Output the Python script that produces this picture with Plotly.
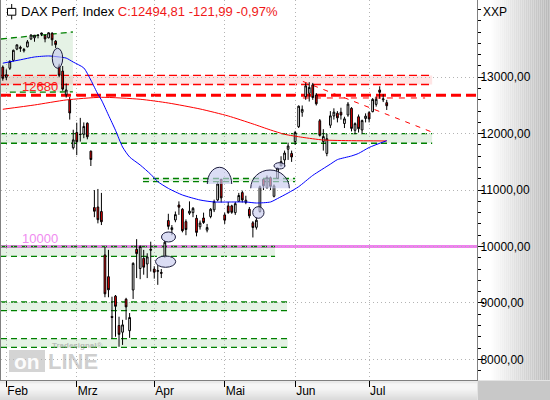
import plotly.graph_objects as go

# ---------------- data ----------------
dates = ["2020-01-31",
 "2020-02-03","2020-02-04","2020-02-05","2020-02-06","2020-02-07","2020-02-10","2020-02-11","2020-02-12",
 "2020-02-13","2020-02-14","2020-02-17","2020-02-18","2020-02-19","2020-02-20","2020-02-21","2020-02-24",
 "2020-02-25","2020-02-26","2020-02-27","2020-02-28",
 "2020-03-02","2020-03-03","2020-03-04","2020-03-05","2020-03-06","2020-03-09","2020-03-10","2020-03-11",
 "2020-03-12","2020-03-13","2020-03-16","2020-03-17","2020-03-18","2020-03-19","2020-03-20","2020-03-23",
 "2020-03-24","2020-03-25","2020-03-26","2020-03-27","2020-03-30","2020-03-31",
 "2020-04-01","2020-04-02","2020-04-03","2020-04-06","2020-04-07","2020-04-08","2020-04-09","2020-04-14",
 "2020-04-15","2020-04-16","2020-04-17","2020-04-20","2020-04-21","2020-04-22","2020-04-23","2020-04-24",
 "2020-04-27","2020-04-28","2020-04-29","2020-04-30",
 "2020-05-04","2020-05-05","2020-05-06","2020-05-07","2020-05-08","2020-05-11","2020-05-12","2020-05-13",
 "2020-05-14","2020-05-15","2020-05-18","2020-05-19","2020-05-20","2020-05-21","2020-05-22","2020-05-25",
 "2020-05-26","2020-05-27","2020-05-28","2020-05-29",
 "2020-06-02","2020-06-03","2020-06-04","2020-06-05","2020-06-08","2020-06-09","2020-06-10","2020-06-11",
 "2020-06-12","2020-06-15","2020-06-16","2020-06-17","2020-06-18","2020-06-19","2020-06-22","2020-06-23",
 "2020-06-24","2020-06-25","2020-06-26","2020-06-29","2020-06-30",
 "2020-07-01","2020-07-02","2020-07-03","2020-07-06","2020-07-07","2020-07-08"]

opens = [13180,
 13000,13160,13300,13500,13530,13470,13540,13680,13700,13750,13760,13740,13700,13780,13640,13200,13110,12690,12600,11750,
 12020,11990,11990,12185,11690,10690,10700,10620,9850,9465,8760,9120,8600,8480,9064,8507,9229,9950,9610,9790,9690,9950,
 9600,9560,9540,9820,10460,10300,10470,10735,10660,10440,10590,10600,10500,10350,10505,10290,10530,10650,10825,11190,
 10560,10720,10720,10600,10800,10955,10780,10660,10420,10340,10620,11190,11040,11220,10890,11210,11430,11535,11724,11650,
 11860,12124,12380,12656,12716,12865,12686,12230,11860,11650,12150,12314,12362,12380,12180,12332,12450,12060,12300,12066,12270,
 12372,12390,12520,12775,12600,12550]
highs = [13210,
 13140,13300,13490,13580,13560,13520,13660,13760,13750,13760,13790,13760,13796,13800,13660,13240,13200,12890,12650,12070,
 12195,12280,12200,12200,11700,11000,11020,10950,9990,9940,9110,9140,8755,8700,9090,8820,9720,10130,10020,9940,9880,10085,
 9650,9670,9600,10100,10580,10380,10620,10800,10680,10480,10800,10700,10560,10460,10600,10400,10680,10830,11140,11200,
 10600,10790,10740,10790,10950,10990,10900,10700,10450,10520,11080,11200,11260,11240,11100,11400,11600,11700,11840,11700,
 12050,12500,12500,12900,12913,12900,12720,12260,12080,12000,12400,12450,12400,12460,12300,12560,12470,12200,12340,12250,12360,
 12400,12630,12660,12840,12700,12600]
lows = [12940,
 12950,13130,13280,13480,13450,13440,13530,13660,13630,13690,13730,13620,13690,13560,13520,13000,12760,12640,12250,11720,
 11620,11860,11920,11900,11427,10520,10410,10380,9100,9100,8372,8400,8223,8255,8700,8380,9070,9440,9420,9500,9440,9555,
 9430,9320,9440,9800,10300,10200,10430,10560,10250,10200,10560,10520,10180,10300,10400,10250,10500,10610,10800,10780,
 10400,10580,10580,10560,10790,10780,10750,10500,10160,10300,10600,11000,11030,11000,10870,11200,11420,11420,11535,11500,
 11800,12100,12300,12600,12570,12600,12500,11950,11700,11600,12100,12250,12200,12250,12100,12300,12040,11990,12020,12000,12200,
 12200,12380,12480,12620,12560,12420]
closes = [12982,
 13045,13282,13478,13575,13514,13494,13628,13750,13745,13744,13784,13681,13789,13664,13579,13035,12790,12775,12367,11890,
 11858,11985,12128,11945,11542,10625,10475,10439,9161,9232,8742,8939,8442,8610,8929,8741,9701,9874,10001,9633,9816,9936,
 9545,9571,9526,10075,10357,10333,10565,10697,10280,10301,10626,10676,10250,10415,10425,10336,10660,10796,11108,10862,
 10467,10600,10606,10759,10904,10825,10820,10543,10337,10465,11059,11075,11224,11066,11074,11391,11505,11657,11781,11587,
 12021,12487,12431,12848,12820,12642,12530,11970,11949,11911,12316,12382,12281,12331,12263,12524,12094,12178,12089,12232,12311,
 12261,12608,12610,12733,12616.80,12494.81]

month_labels = ["Feb", "Mrz", "Apr", "Mai", "Jun", "Jul"]
month_starts = ["2020-02-03", "2020-03-02", "2020-04-01", "2020-05-04", "2020-06-02", "2020-07-01"]
ytick_values = [8000, 9000, 10000, 11000, 12000, 13000]

ma_fast_dates = ["2020-01-31","2020-02-07","2020-02-13","2020-02-19","2020-02-24","2020-02-26","2020-02-28","2020-03-04",
 "2020-03-06","2020-03-10","2020-03-11","2020-03-13","2020-03-17","2020-03-19","2020-03-23","2020-03-26","2020-03-31",
 "2020-04-02","2020-04-07","2020-04-15","2020-04-22","2020-04-28","2020-05-06","2020-05-12","2020-05-15","2020-05-21",
 "2020-05-25","2020-05-28","2020-06-03","2020-06-09","2020-06-16","2020-06-18","2020-06-24","2020-06-26","2020-07-01","2020-07-08"]
ma_fast_values = [13250,13310,13360,13378,13360,13340,13270,13165,12950,12700,12598,12330,12060,11764,11587,11445,11280,
 11150,11030,10913,10824,10789,10789,10789,10771,10789,10850,10949,11060,11260,11460,11540,11605,11650,11755,11876]

ma_slow_dates = ["2020-01-31","2020-02-13","2020-02-26","2020-03-11","2020-03-26","2020-04-07","2020-04-22","2020-05-05",
 "2020-05-14","2020-05-21","2020-05-27","2020-06-04","2020-06-12","2020-06-24","2020-07-08"]
ma_slow_values = [12433,12509,12598,12645,12610,12544,12438,12314,12173,12066,11989,11936,11888,11876,11871]

zone_tops = [12000, 11205, 10000, 9016, 8365]
zone_bottoms = [11830, 11150, 9823, 8862, 8213]
band_top, band_bottom = 13032, 12872
support_level = 12680
round_level = 10000
resist_level = 12633

# ---------------- geometry helpers ----------------
W, H = 550, 400
PL, PR, PT, PB = 1, 477, 0, 380
FONT = "Arial, Liberation Sans, sans-serif"
XR = [-0.51, 134.63]
YR = [7633, 14370]


def pxx(px):
    return (px - PL) / (PR - PL)


def pxy(py):
    return (PB - py) / (PB - PT)


idx = {d: i for i, d in enumerate(dates)}
xs = list(range(len(dates)))

fig = go.Figure()

# moving averages
fig.add_trace(go.Scatter(x=[idx[d] for d in ma_slow_dates], y=ma_slow_values, mode="lines",
                         line=dict(color="#ff0000", width=1, shape="spline", smoothing=0.6),
                         hoverinfo="skip", showlegend=False))
fig.add_trace(go.Scatter(x=[idx[d] for d in ma_fast_dates], y=ma_fast_values, mode="lines",
                         line=dict(color="#0000ff", width=1, shape="spline", smoothing=0.6),
                         hoverinfo="skip", showlegend=False))

# candles
fig.add_trace(go.Candlestick(x=xs, open=opens, high=highs, low=lows, close=closes,
                             increasing=dict(line=dict(color="black", width=1), fillcolor="white"),
                             decreasing=dict(line=dict(color="black", width=1), fillcolor="#ff0000"),
                             whiskerwidth=0, hoverinfo="skip", showlegend=False))

shapes = []
GREEN_FILL = "rgba(0,128,0,0.10)"
GREEN = "#008000"
RED = "#ff0000"


def seg(x0, y0, x1, y1, color, width, dash, xref="x", yref="y", layer="below"):
    shapes.append(dict(type="line", xref=xref, yref=yref, x0=x0, y0=y0, x1=x1, y1=y1,
                       line=dict(color=color, width=width, dash=dash), layer=layer))


# green zones
zone_x = [(-0.51, 121.9), (39.8, 83.0), (-0.51, 77.3), (-0.51, 80.7), (-0.51, 80.9)]
for (x0, x1), top, bot in zip(zone_x, zone_tops, zone_bottoms):
    shapes.append(dict(type="rect", xref="x", yref="y", x0=x0, x1=x1, y0=bot, y1=top,
                       fillcolor=GREEN_FILL, line=dict(width=0), layer="below"))
    seg(x0, top, x1, top, GREEN, 1.3, "6px,4px")
    seg(x0, bot, x1, bot, GREEN, 1.3, "6px,4px")

# February channel
shapes.append(dict(type="path", xref="x", yref="y",
                   path="M -0.51,13679 L 19.9,13803 L 19.9,12735 L -0.51,12735 Z",
                   fillcolor=GREEN_FILL, line=dict(width=0), layer="below"))
seg(-0.51, 13679, 19.9, 13803, GREEN, 1.3, "6px,4px")
seg(2.0, 12735, 19.9, 12740, GREEN, 1.3, "6px,4px")

# pink resistance band
shapes.append(dict(type="rect", xref="x", yref="y", x0=-0.51, x1=121.9, y0=band_bottom, y1=band_top,
                   fillcolor="rgba(255,0,0,0.10)", line=dict(width=0), layer="below"))
seg(-0.51, band_top, 121.9, band_top, RED, 1.3, "8px,4px")
seg(-0.51, band_bottom, 121.9, band_bottom, RED, 1.3, "8px,4px")

# thick support line 12680 and violet 10000 line
seg(0, support_level, 1, support_level, RED, 3, "10px,5px", xref="paper")
seg(0, round_level, 1, round_level, "#ee82ee", 3, "solid", xref="paper")

# thin red lines on the right
seg(85.2, resist_level, 119.9, resist_level, RED, 1, "6px,6px")
seg(85.2, 12926, 121.9, 12027, RED, 1, "5px,6px")

# domes (half ellipses)
LAV = "rgba(200,203,238,0.65)"
EDGE = "#1c1c3c"
for x0, x1, yb, yt in [(58.06, 64.99, 11108, 11404), (70.39, 81.35, 11032, 11356)]:
    cx, rx, ry, k = (x0 + x1) / 2, (x1 - x0) / 2, yt - yb, 0.5523
    arc = (f"M {x0},{yb} C {x0},{yb + k * ry} {cx - k * rx},{yt} {cx},{yt} "
           f"C {cx + k * rx},{yt} {x1},{yb + k * ry} {x1},{yb}")
    shapes.append(dict(type="path", xref="x", yref="y", path=arc + " Z", fillcolor=LAV,
                       line=dict(width=0), layer="above"))
    shapes.append(dict(type="path", xref="x", yref="y", path=arc, fillcolor="rgba(0,0,0,0)",
                       line=dict(color=EDGE, width=1), layer="above"))

# ellipses
for x0, x1, y0, y1 in [(14.06, 17.01, 13160, 13514), (45.06, 49.03, 10080, 10257),
                       (43.36, 49.09, 9631, 9832), (70.95, 74.16, 10500, 10706),
                       (77.0, 80.1, 11374, 11486)]:
    shapes.append(dict(type="circle", xref="x", yref="y", x0=x0, x1=x1, y0=y0, y1=y1,
                       fillcolor=LAV, line=dict(color=EDGE, width=1), layer="above"))

# right axis panel gradient
step = 2
px = PR + 0.5
while px < W:
    g = 255 if px < 490 else int(255 - (px - 490) / (W - 490) * 72)
    shapes.append(dict(type="rect", xref="paper", yref="paper", x0=pxx(px), x1=pxx(px + step),
                       y0=pxy(PB), y1=pxy(-2), fillcolor=f"rgb({g},{g},{g})",
                       line=dict(width=0), layer="below"))
    px += step
# bottom axis panel gradient
py = PB + 0.5
while py < H:
    if py < 383:
        g = 228
    elif py < 388:
        g = 244
    else:
        g = int(244 - (py - 388) / (H - 388) * 40)
    shapes.append(dict(type="rect", xref="paper", yref="paper", x0=pxx(-2), x1=pxx(PR),
                       y0=pxy(py + 1), y1=pxy(py), fillcolor=f"rgb({g},{g},{g})",
                       line=dict(width=0), layer="below"))
    py += 1
shapes.append(dict(type="rect", xref="paper", yref="paper", x0=pxx(PR + 0.5), x1=pxx(W + 2),
                   y0=pxy(H + 2), y1=pxy(PB + 0.5), fillcolor="rgb(200,200,200)",
                   line=dict(width=0), layer="below"))

# title candle icon
shapes.append(dict(type="line", xref="paper", yref="paper", x0=pxx(11.7), x1=pxx(11.7),
                   y0=pxy(4), y1=pxy(19.5), line=dict(color="black", width=1), layer="above"))
shapes.append(dict(type="rect", xref="paper", yref="paper", x0=pxx(7.5), x1=pxx(15.8),
                   y0=pxy(15.2), y1=pxy(8.4), fillcolor="white", line=dict(color="black", width=1),
                   layer="above"))

# watermark box
shapes.append(dict(type="rect", xref="paper", yref="paper", x0=pxx(9), x1=pxx(45),
                   y0=pxy(372), y1=pxy(350), fillcolor="rgba(160,160,160,0.45)",
                   line=dict(width=0), layer="below"))

# ---------------- texts ----------------
last, prev = closes[-1], closes[-2]
chg = last - prev
pct = chg / prev * 100


def de(v):
    return f"{v:.2f}".replace(".", ",")


annotations = [
    dict(xref="paper", yref="paper", x=pxx(19), y=pxy(11.5), xanchor="left", yanchor="middle",
         showarrow=False, font=dict(family=FONT, size=13, color="black"),
         text=f'DAX Perf. Index <span style="color:#f01818">C:{de(last)} {de(chg)} {de(pct)}%</span>'),
    dict(xref="paper", yref="paper", x=pxx(481), y=pxy(12), xanchor="left", yanchor="middle",
         showarrow=False, font=dict(family=FONT, size=12, color="black"), text="XXP"),
    dict(xref="x", yref="y", x=4.9, y=12840, xanchor="left", yanchor="middle", showarrow=False,
         font=dict(family=FONT, size=13, color="#ff2020"), text=str(support_level)),
    dict(xref="x", yref="y", x=4.9, y=10150, xanchor="left", yanchor="middle", showarrow=False,
         font=dict(family=FONT, size=13, color="#f08cf0"), text=str(round_level)),
    dict(xref="paper", yref="paper", x=pxx(50), y=pxy(345.5), xanchor="left", yanchor="middle",
         showarrow=False, font=dict(family=FONT, size=8, color="rgba(150,150,150,0.6)"),
         text="<b>Tradesignal®</b>"),
    dict(xref="paper", yref="paper", x=pxx(27), y=pxy(361), xanchor="center", yanchor="middle",
         showarrow=False, font=dict(family=FONT, size=21, color="rgba(255,255,255,0.95)"),
         text="<b>on</b>"),
    dict(xref="paper", yref="paper", x=pxx(46), y=pxy(361), xanchor="left", yanchor="middle",
         showarrow=False, font=dict(family=FONT, size=22, color="rgba(160,160,160,0.5)"),
         text="<b>LINE</b>"),
]

grid = dict(showgrid=True, gridcolor="#b4b4b4", gridwidth=1, griddash="1px,3px")

fig.update_layout(
    width=W, height=H,
    margin=dict(l=PL, r=W - PR, t=PT, b=H - PB, autoexpand=False),
    paper_bgcolor="white", plot_bgcolor="white",
    showlegend=False,
    font=dict(family=FONT, size=12, color="black"),
    shapes=shapes,
    annotations=annotations,
    xaxis=dict(range=XR, tickvals=[idx[d] for d in month_starts], ticktext=month_labels,
               ticks="outside", ticklen=6, tickcolor="black", ticklabelposition="outside right",
               showline=True, linecolor="#808080", linewidth=1, mirror=False, zeroline=False,
               rangeslider=dict(visible=False), fixedrange=True,
               tickfont=dict(family=FONT, size=12, color="black"), **grid),
    yaxis=dict(side="right", range=YR, tickvals=ytick_values,
               ticktext=[de(v) for v in ytick_values],
               ticks="outside", ticklen=6, tickcolor="black", ticklabelstandoff=-6,
               showline=True, linecolor="#808080", linewidth=1, mirror=True, zeroline=False,
               fixedrange=True, tickfont=dict(family=FONT, size=12, color="black"),
               minor=dict(dtick=200, ticks="outside", ticklen=3, tickcolor="black", showgrid=False),
               **grid),
)

fig.write_html("out.html", config={"displayModeBar": False},
               post_script="document.documentElement.style.margin='0';"
                           "document.body.style.margin='0';document.body.style.padding='0';"
                           "document.body.style.overflow='hidden';")
